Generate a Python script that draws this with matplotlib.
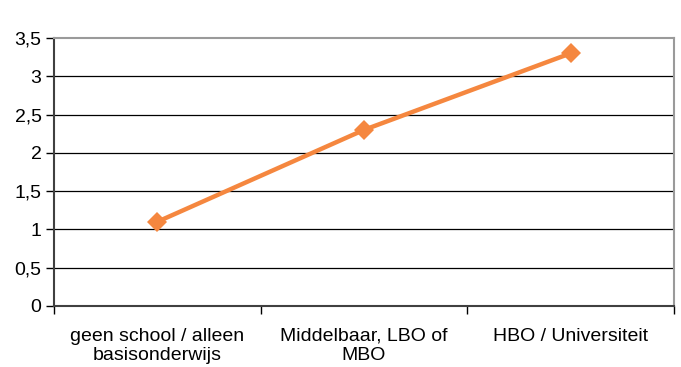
import matplotlib.pyplot as plt
from matplotlib.ticker import FuncFormatter

categories = ["geen school / alleen\nbasisonderwijs", "Middelbaar, LBO of\nMBO", "HBO / Universiteit"]
values = [1.1, 2.3, 3.3]
y_ticks = [0, 0.5, 1, 1.5, 2, 2.5, 3, 3.5]

plt.rcParams['font.family'] = ['Liberation Sans', 'DejaVu Sans']

fig = plt.figure(figsize=(6.81, 3.67), dpi=100)
ax = fig.add_axes([54 / 681, 1 - 306 / 367, 620 / 681, 268 / 367])

x = list(range(len(categories)))
ax.plot(x, values, color='#F5873F', linewidth=3.2, marker='D', markersize=10,
        markeredgewidth=0, zorder=3)

ax.set_xlim(-0.5, len(categories) - 0.5)
ax.set_ylim(0, 3.5)
ax.set_yticks(y_ticks)
ax.yaxis.set_major_formatter(FuncFormatter(lambda v, p: f"{v:g}".replace('.', ',')))
for v in y_ticks[1:-1]:
    ax.axhline(v, color='#000000', linewidth=0.9, zorder=1)

# category labels between boundary ticks
ax.set_xticks([i - 0.5 for i in range(len(categories) + 1)])
ax.set_xticklabels([])
ax.set_xticks(x, minor=True)
ax.set_xticklabels(categories, minor=True, fontsize=14, linespacing=1.2)
ax.tick_params(axis='x', which='minor', length=0, pad=15.5)
ax.tick_params(axis='x', which='major', length=6, width=1, direction='out')
ax.tick_params(axis='y', length=6, width=1, labelsize=14, pad=3)

for s in ['top', 'right']:
    ax.spines[s].set_color('#9a9a9a')
    ax.spines[s].set_linewidth(1.5)
for s in ['left', 'bottom']:
    ax.spines[s].set_color('#404040')
    ax.spines[s].set_linewidth(1.5)

fig.savefig('out.png', dpi=100)
